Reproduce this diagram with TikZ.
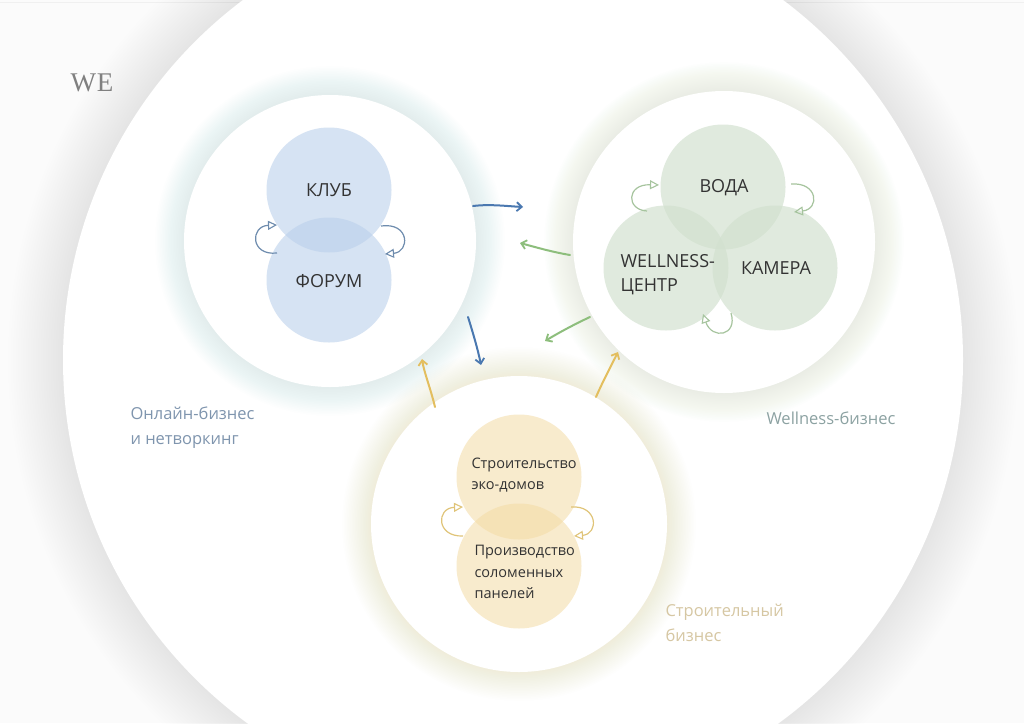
\documentclass[tikz,border=0pt]{standalone}
\usepackage{fontspec}
\setmainfont{Open Sans}
\newfontfamily\wefont{Liberation Serif}
\usetikzlibrary{arrows.meta}
\definecolor{bg}{HTML}{FBFBFB}
\definecolor{bluefill}{RGB}{186,208,235}
\definecolor{greenfill}{RGB}{210,225,207}
\definecolor{yellowfill}{RGB}{244,219,164}
\definecolor{bluearrow}{HTML}{4A78B0}
\definecolor{greenarrow}{HTML}{8DBE7C}
\definecolor{yellowarrow}{HTML}{E3BE5E}
\definecolor{blueloop}{HTML}{6E8CAE}
\definecolor{greenloop}{HTML}{A6C49E}
\definecolor{yellowloop}{HTML}{E0C478}
\definecolor{bluelabel}{HTML}{7F95AE}
\definecolor{greenlabel}{HTML}{8CA2A2}
\definecolor{yellowlabel}{HTML}{D6C7A3}
\definecolor{txt}{HTML}{333333}
\definecolor{blueglow}{RGB}{150,185,232}
\definecolor{greenglow}{RGB}{165,210,155}
\definecolor{yellowglow}{RGB}{240,212,130}
\newcommand\myhalo[6]{% center, radius, color, opacity, step, count
  \foreach \k in {1,...,#6}{\fill[#3, opacity=#4] #1 circle ({#2+\k*#5});}}
\begin{document}
\begin{tikzpicture}[x=1pt,y=-1pt,
  bigarrow/.style={line width=2pt, line cap=round, -{Straight Barb[length=5pt,width=9pt,line width=1.8pt]}},
  loop/.style={line width=1.2pt, -{Triangle[open,length=9pt,width=9pt,line width=1.1pt]}},
  holder/.style={circle, fill=white, inner sep=0pt},
  bubble/.style={circle, inner sep=0pt, minimum size=125pt},
  intext/.style={font=\fontsize{18}{20}\selectfont, text=txt, align=center},
  smalltext/.style={font=\fontsize{14.5}{21.5}\selectfont, text=txt, align=left},
  glabel/.style={font=\fontsize{16.5}{25}\selectfont, align=left, anchor=west}]
\useasboundingbox (0,0) rectangle (1024,723);
\fill[bg] (0,0) rectangle (1024,723);
\draw[black!6, line width=0.8pt] (0,2) -- (1024,2);
% big circle
\myhalo{(513,360)}{450}{black}{0.0022}{2.5}{22}
\node[holder, minimum size=900pt] (world) at (513,360) {};
% group halos
\myhalo{(330,241)}{146}{blueglow}{0.012}{1.6}{18}
\myhalo{(724,242)}{151}{greenglow}{0.012}{1.6}{18}
\myhalo{(519,524)}{148}{yellowglow}{0.012}{1.6}{18}
\node[holder, minimum size=292pt] (online) at (330,241) {};
\node[holder, minimum size=302pt] (wellness) at (724,242) {};
\node[holder, minimum size=296pt] (build) at (519,524) {};
% inner bubbles
\node[bubble, fill=bluefill, fill opacity=0.59] (klub) at (329,190) {};
\node[bubble, fill=bluefill, fill opacity=0.59] (forum) at (329,280) {};
\node[bubble, fill=greenfill, fill opacity=0.67] (voda) at (723,187) {};
\node[bubble, fill=greenfill, fill opacity=0.67] (center) at (666,268) {};
\node[bubble, fill=greenfill, fill opacity=0.67] (kamera) at (775,268) {};
\node[bubble, fill=yellowfill, fill opacity=0.55] (eco) at (519,477) {};
\node[bubble, fill=yellowfill, fill opacity=0.55] (straw) at (519,566) {};
% texts
\node[intext] (tklub) at (329,190) {КЛУБ};
\node[intext] (tforum) at (329,281) {ФОРУМ};
\node[intext] (tvoda) at (724,188) {ВОДА};
\node[intext, anchor=west, align=left, font=\fontsize{18}{24}\selectfont] (tcenter) at (617,275) {WELLNESS-\\ЦЕНТР};
\node[intext] (tkamera) at (776,268) {КАМЕРА};
\node[smalltext, anchor=west] (teco) at (468,475) {Строительство\\эко-домов};
\node[smalltext, anchor=west] (tstraw) at (471,572) {Производство\\соломенных\\панелей};
\node[font=\wefont\fontsize{27}{27}\selectfont, text=black!50] (we) at (92,83) {W\kern1ptE};
\node[glabel, text=bluelabel] (lonline) at (127,428) {Онлайн-бизнес\\и нетворкинг};
\node[glabel, text=greenlabel] (lwell) at (763,418) {Wellness-бизнес};
\node[glabel, text=yellowlabel] (lbuild) at (662,623) {Строительный\\бизнес};
% arrow end points
\coordinate (a1s) at (473,206); \coordinate (a1e) at (523,207);
\coordinate (a2s) at (570,255); \coordinate (a2e) at (520,243);
\coordinate (a3s) at (468,317); \coordinate (a3e) at (481,365);
\coordinate (a4s) at (590,317); \coordinate (a4e) at (545,341);
\coordinate (a5s) at (435,407); \coordinate (a5e) at (422,359);
\coordinate (a6s) at (596,397); \coordinate (a6e) at (618,352);
\draw[bigarrow, bluearrow] (a1s) .. controls (490,204) and (505,206) .. (a1e);
\draw[bigarrow, greenarrow] (a2s) .. controls (552,252) and (535,247) .. (a2e);
\draw[bigarrow, bluearrow] (a3s) .. controls (473,333) and (478,350) .. (a3e);
\draw[bigarrow, greenarrow] (a4s) .. controls (575,324) and (560,332) .. (a4e);
\draw[bigarrow, yellowarrow] (a5s) .. controls (431,390) and (424,372) .. (a5e);
\draw[bigarrow, yellowarrow] (a6s) .. controls (603,381) and (611,366) .. (a6e);
% loops
\coordinate (b1s) at (277,253); \coordinate (b1e) at (277,225);
\coordinate (b2s) at (381,226); \coordinate (b2e) at (385,254);
\draw[loop, blueloop] (b1s) .. controls (250,256) and (250,226) .. (b1e);
\draw[loop, blueloop] (b2s) .. controls (410,222) and (410,252) .. (b2e);
\coordinate (g1s) at (647,211); \coordinate (g1e) at (659,185);
\coordinate (g2s) at (791,184); \coordinate (g2e) at (794,212);
\coordinate (g3s) at (731,313); \coordinate (g3e) at (703,314);
\draw[loop, greenloop] (g1s) .. controls (626,210) and (626,184) .. (g1e);
\draw[loop, greenloop] (g2s) .. controls (818,182) and (820,209) .. (g2e);
\draw[loop, greenloop] (g3s) .. controls (738,336) and (712,340) .. (g3e);
\coordinate (y1s) at (463,536); \coordinate (y1e) at (463,507);
\coordinate (y2s) at (571,507); \coordinate (y2e) at (574,536);
\draw[loop, yellowloop] (y1s) .. controls (436,537) and (436,508) .. (y1e);
\draw[loop, yellowloop] (y2s) .. controls (598,505) and (599,534) .. (y2e);
\end{tikzpicture}
\end{document}
